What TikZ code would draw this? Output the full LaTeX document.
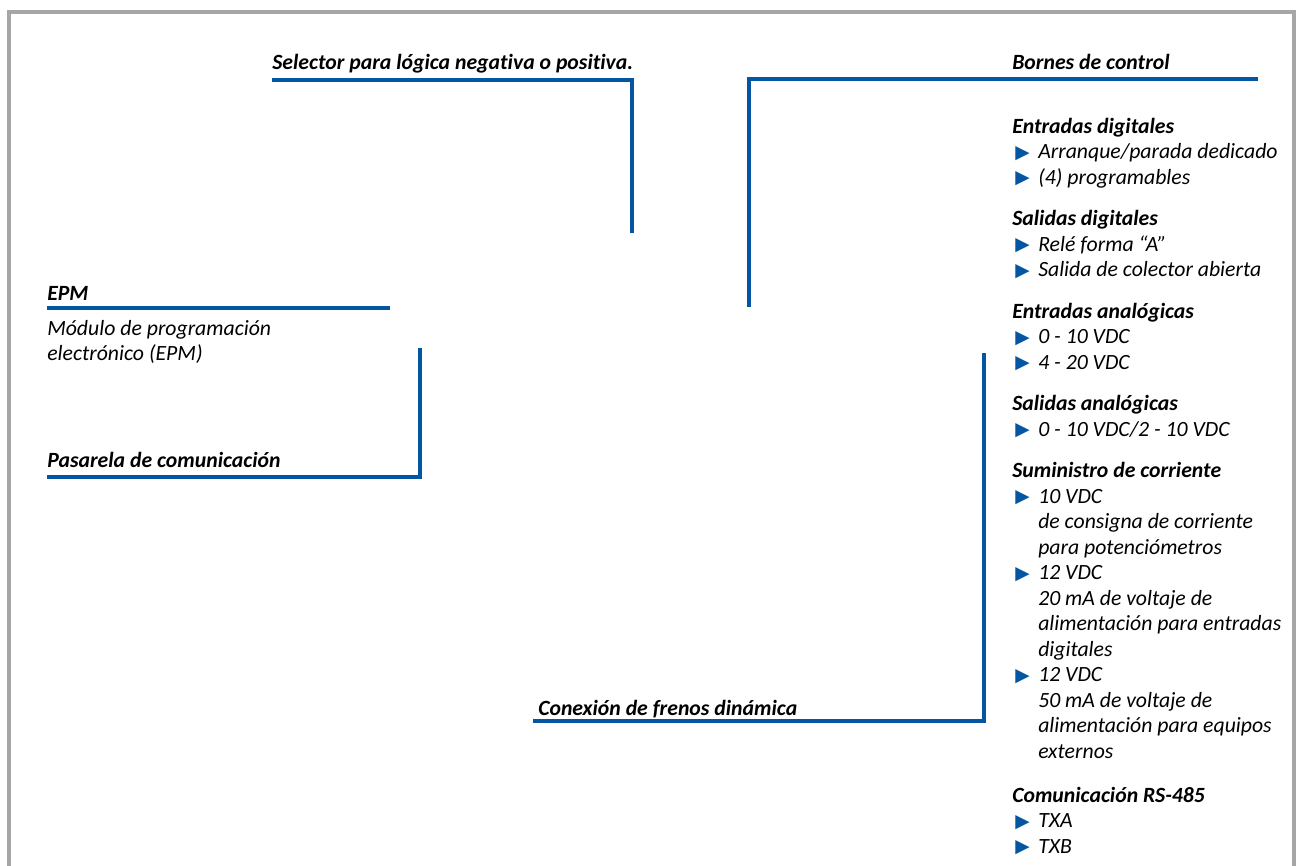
\documentclass[tikz,border=0pt]{standalone}
\usepackage{fontspec}
\setmainfont{Carlito}[Ligatures=NoCommon]
\newfontfamily\symfont{DejaVu Sans}
\usetikzlibrary{positioning}

\definecolor{leaderblue}{RGB}{5,86,162}
\definecolor{framegray}{RGB}{166,166,166}

\newcommand{\bul}{\hspace*{2.25pt}\makebox[17.25pt][l]{\raisebox{0.3pt}{\fontsize{14}{14}\symfont\color{leaderblue}▶}}}
\newcommand{\cont}{\hspace*{19.5pt}}

\begin{document}
\begin{tikzpicture}[x=0.75pt, y=-0.75pt]

\tikzstyle{head} = [inner sep=0pt, anchor=base west, font=\fontsize{16.3}{19.125}\selectfont\bfseries\itshape]
\tikzstyle{group} = [inner sep=0pt, align=left, anchor=north west, font=\fontsize{16.3}{19.125}\selectfont\itshape]
\tikzstyle{leader} = [draw=leaderblue, line width=2.8pt]
\tikzstyle{frame} = [draw=framegray, line width=3pt]

\useasboundingbox (0,0) rectangle (1300,865);
\draw[frame] (9,866) -- (9,11.5) -- (1294,11.5) -- (1294,866);

%Label nodes and end points
\node[head] at (272,69) (sel) {Selector para lógica negativa o positiva.};
\coordinate (selEnd) at (632,233);
\node[head] at (1012,69) (bor) {Bornes de control};
\coordinate (borR) at (1258,79);
\coordinate (borEnd) at (749,307);
\node[head] at (47,300) (epm) {EPM};
\coordinate (epmR) at (390,308);
\node[group] at (47,317) (epmtxt) {\strut Módulo de programación\\
\strut electrónico (EPM)};
\node[head] at (47,467) (pas) {Pasarela de comunicación};
\coordinate (pasEnd) at (420,348);
\node[head] at (538,715) (con) {Conexión de frenos dinámica};
\coordinate (conEnd) at (984,353);

%Terminal list
\node[group] at (1012,115) (din) {\strut\textbf{Entradas digitales}\\
\strut\bul Arranque/parada dedicado\\
\strut\bul (4) programables};
\node[group, below=11.6pt of din.south west, anchor=north west] (dout) {\strut\textbf{Salidas digitales}\\
\strut\bul Relé forma “A”\\
\strut\bul Salida de colector abierta};
\node[group, below=11.6pt of dout.south west, anchor=north west] (ain) {\strut\textbf{Entradas analógicas}\\
\strut\bul 0 - 10 VDC\\
\strut\bul 4 - 20 VDC};
\node[group, below=11.6pt of ain.south west, anchor=north west] (aout) {\strut\textbf{Salidas analógicas}\\
\strut\bul 0 - 10 VDC/2 - 10 VDC};
\node[group, below=11.6pt of aout.south west, anchor=north west] (psu) {\strut\textbf{Suministro de corriente}\\
\strut\bul 10 VDC\\
\strut\cont de consigna de corriente\\
\strut\cont para potenciómetros\\
\strut\bul 12 VDC\\
\strut\cont 20 mA de voltaje de\\
\strut\cont alimentación para entradas\\
\strut\cont digitales\\
\strut\bul 12 VDC\\
\strut\cont 50 mA de voltaje de\\
\strut\cont alimentación para equipos\\
\strut\cont externos};
\node[group, below=13.5pt of psu.south west, anchor=north west] (rs) {\strut\textbf{Comunicación RS-485}\\
\strut\bul TXA\\
\strut\bul TXB};

%Leader lines
\draw[leader] ([yshift=-8.25pt]sel.base west) -| (selEnd);
\draw[leader] (borEnd) |- (borR);
\draw[leader] ([yshift=-6pt]epm.base west) -- (epmR);
\draw[leader] ([yshift=-7.5pt]pas.base west) -| (pasEnd);
\draw[leader] ([xshift=-3.75pt, yshift=-4.5pt]con.base west) -| (conEnd);
\end{tikzpicture}
\end{document}
